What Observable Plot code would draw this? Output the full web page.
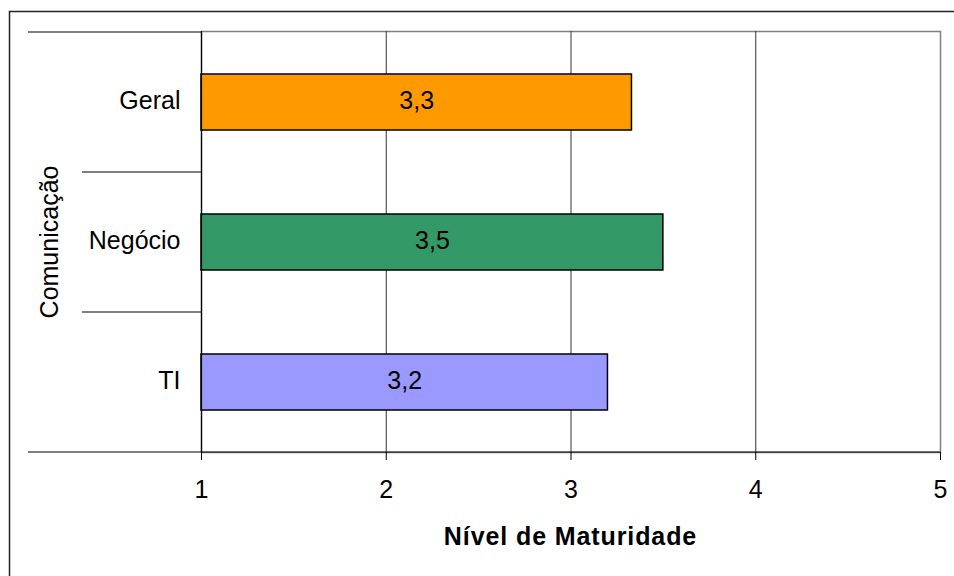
<!DOCTYPE html>
<html>
<head>
<meta charset="utf-8">
<script src="https://cdn.jsdelivr.net/npm/d3@7"></script>
<script src="https://cdn.jsdelivr.net/npm/@observablehq/plot@0.6"></script>
<style>
  html, body { margin: 0; padding: 0; background: #fff; }
  svg { display: block; }
</style>
</head>
<body>
<div id="chart"></div>
<script>
// Maturity level per communication area
const categories = ["Geral", "Negócio", "TI"];
const values = [3.33, 3.5, 3.2];
const valueLabels = ["3,3", "3,5", "3,2"];
const colors = ["#FF9900", "#339966", "#9999FF"];
const groupLabel = "Comunicação";
const xTicks = [1, 2, 3, 4, 5];
const xTitle = "Nível de Maturidade";

const rows = categories.map((c, i) => ({ category: c, value: values[i], label: valueLabels[i] }));

const font = "'Liberation Sans', Arial, Helvetica, sans-serif";
const fs = 25;
const xMin = xTicks[0], xMax = xTicks[xTicks.length - 1];

const plot = Plot.plot({
  width: 954,
  height: 576,
  marginLeft: 201,
  marginRight: 14,
  marginTop: 31,
  marginBottom: 124,
  style: { fontFamily: font, color: "#000", background: "#fff" },
  x: { domain: [xMin, xMax] },
  y: { domain: categories, paddingInner: 0.6, paddingOuter: 0.3 },
  color: { domain: categories, range: colors },
  marks: [
    // plot area border
    Plot.frame({ stroke: "#808080", strokeWidth: 1.5 }),
    // vertical gridlines
    Plot.ruleX(xTicks.slice(1, -1), { stroke: "#333", strokeWidth: 1 }),
    // bars
    Plot.barX(rows, {
      x1: () => xMin,
      x2: "value",
      y: "category",
      fill: "category",
      stroke: "#000",
      strokeWidth: 1.5
    }),
    // value labels centred in each bar
    Plot.text(rows, {
      x: d => (xMin + d.value) / 2,
      y: "category",
      text: "label",
      fontSize: fs,
      fill: "#000",
      dy: -2
    }),
    // value axis
    Plot.axisX(xTicks, {
      tickSize: 8,
      tickPadding: 20,
      fontSize: fs,
      label: null,
      stroke: "#000",
      tickFormat: d => String(d)
    }),
    Plot.axisY({
      tickSize: 0,
      tickPadding: 21,
      fontSize: fs,
      label: null,
      dy: -2
    }),
    // category axis line
    Plot.ruleX([xMin], { stroke: "#000", strokeWidth: 1.2 })
  ]
});

document.getElementById("chart").appendChild(plot);

// Multi-level category axis: band separators, group label, axis lines
const svg = d3.select(plot);
const xs = plot.scale("x");
const ys = plot.scale("y");
const step = ys.step;
const centers = categories.map(c => ys.apply(c) + ys.bandwidth / 2);
const bounds = [centers[0] - step / 2, ...centers.map(c => c + step / 2)];
const x0 = xs.apply(xMin), x1 = xs.apply(xMax);
const outerLeft = 28, innerLeft = 82;

const deco = svg.append("g").attr("stroke", "#000").attr("stroke-width", 1.2);
bounds.forEach((b, i) => {
  const outer = i === 0 || i === bounds.length - 1;
  deco.append("line")
    .attr("x1", outer ? outerLeft : innerLeft)
    .attr("x2", i === bounds.length - 1 ? x1 : x0)
    .attr("y1", b).attr("y2", b);
});

svg.append("text")
  .attr("transform", `translate(${58},${(bounds[0] + bounds[bounds.length - 1]) / 2}) rotate(-90)`)
  .attr("text-anchor", "middle")
  .attr("font-family", font)
  .attr("font-size", fs)
  .attr("fill", "#000")
  .text(groupLabel);

svg.append("text")
  .attr("x", (x0 + x1) / 2)
  .attr("y", 545)
  .attr("text-anchor", "middle")
  .attr("font-family", font)
  .attr("font-size", fs)
  .attr("font-weight", "bold")
  .attr("letter-spacing", "0.9px")
  .attr("fill", "#000")
  .text(xTitle);

// chart border
svg.append("path")
  .attr("d", "M9.5,580V11.5H960")
  .attr("fill", "none")
  .attr("stroke", "#222")
  .attr("stroke-width", 1.5);
</script>
</body>
</html>
